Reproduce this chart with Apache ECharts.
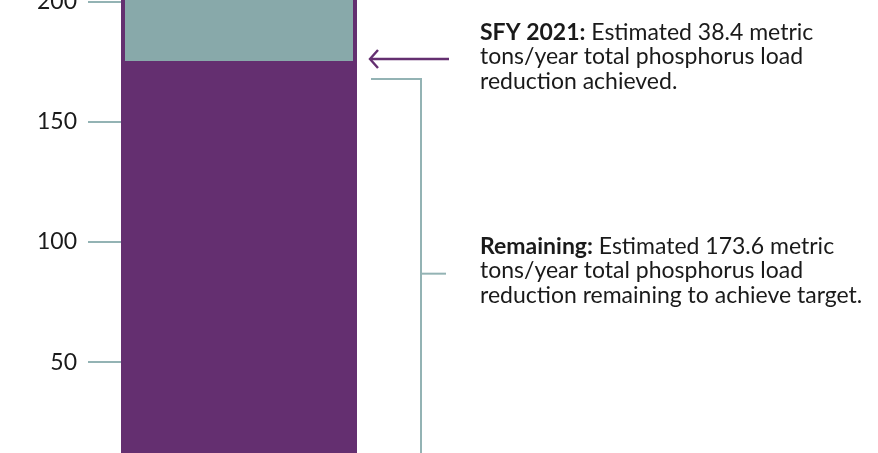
<!DOCTYPE html>
<html>
<head>
<meta charset="utf-8">
<script src="https://cdn.jsdelivr.net/npm/echarts@6/dist/echarts.min.js"></script>
<style>
  html, body { margin: 0; padding: 0; background: #fff; }
  #main { width: 878px; height: 453px; }
</style>
</head>
<body>
<div id="main"></div>
<script>
var categories = ['Total phosphorus load reduction'];
var remaining = [173.6];
var sfy2021 = [38.4];
var yMin = 0;
var yMax = 250;
var yInterval = 50;

var purple = '#642f70';
var teal = '#88a9aa';
var lineTeal = '#93b3b4';

var chart = echarts.init(document.getElementById('main'), null, { renderer: 'canvas' });

// the picture is a crop of a taller chart: the grid runs past the top and bottom
var option = {
  animation: false,
  grid: { left: 121, width: 236, top: -118.66, height: 601, outerBoundsMode: 'none', containLabel: false },
  xAxis: {
    type: 'category',
    data: categories,
    show: false
  },
  yAxis: {
    type: 'value',
    min: yMin,
    max: yMax,
    interval: yInterval,
    axisLine: { show: false },
    splitLine: { show: false },
    axisTick: { show: true, length: 33, lineStyle: { color: lineTeal, width: 2 } },
    axisLabel: {
      margin: 44,
      fontSize: 23,
      color: '#1a1a1a',
      fontFamily: 'Lato',
      overflow: 'none',
      hideOverlap: false
    }
  },
  series: [
    {
      name: 'Remaining',
      type: 'bar',
      stack: 'total',
      barWidth: 236,
      data: remaining,
      itemStyle: { color: purple }
    },
    {
      name: 'SFY 2021',
      type: 'bar',
      stack: 'total',
      barWidth: 236,
      data: sfy2021,
      itemStyle: { color: teal, borderColor: purple, borderWidth: 4 }
    }
  ]
};
chart.setOption(option);

// annotations placed from the value scale
var yBoundary = chart.convertToPixel({ yAxisIndex: 0 }, remaining[0]);
var yMid = chart.convertToPixel({ yAxisIndex: 0 }, remaining[0] / 2);
var yBottom = 453;
var arrowY = yBoundary - 6;
var bracketTop = yBoundary + 14;

var boldRich = { b: { fontWeight: 'bold', fontSize: 23, fontFamily: 'Lato', lineHeight: 24.5, fill: '#1a1a1a' } };

chart.setOption({
  graphic: [
    {
      type: 'line',
      shape: { x1: 370, y1: arrowY, x2: 449, y2: arrowY },
      style: { stroke: purple, lineWidth: 2.4 }
    },
    {
      type: 'polyline',
      shape: { points: [[378, arrowY - 9], [370, arrowY], [378, arrowY + 9]] },
      style: { stroke: purple, lineWidth: 2.4, fill: null }
    },
    {
      type: 'polyline',
      shape: { points: [[371, bracketTop], [421, bracketTop], [421, yBottom]] },
      style: { stroke: lineTeal, lineWidth: 2, fill: null }
    },
    {
      type: 'line',
      shape: { x1: 421, y1: yMid, x2: 446, y2: yMid },
      style: { stroke: lineTeal, lineWidth: 2 }
    },
    {
      type: 'text',
      x: 480,
      y: arrowY - 2,
      style: {
        text: '{b|SFY 2021:} Estimated 38.4 metric\ntons/year total phosphorus load\nreduction achieved.',
        verticalAlign: 'middle',
        fontSize: 23,
        fontFamily: 'Lato',
        lineHeight: 24.5,
        fill: '#1a1a1a',
        rich: boldRich
      }
    },
    {
      type: 'text',
      x: 480,
      y: yMid - 3,
      style: {
        text: '{b|Remaining:} Estimated 173.6 metric\ntons/year total phosphorus load\nreduction remaining to achieve target.',
        verticalAlign: 'middle',
        fontSize: 23,
        fontFamily: 'Lato',
        lineHeight: 24.5,
        fill: '#1a1a1a',
        rich: boldRich
      }
    }
  ]
});
</script>
</body>
</html>
